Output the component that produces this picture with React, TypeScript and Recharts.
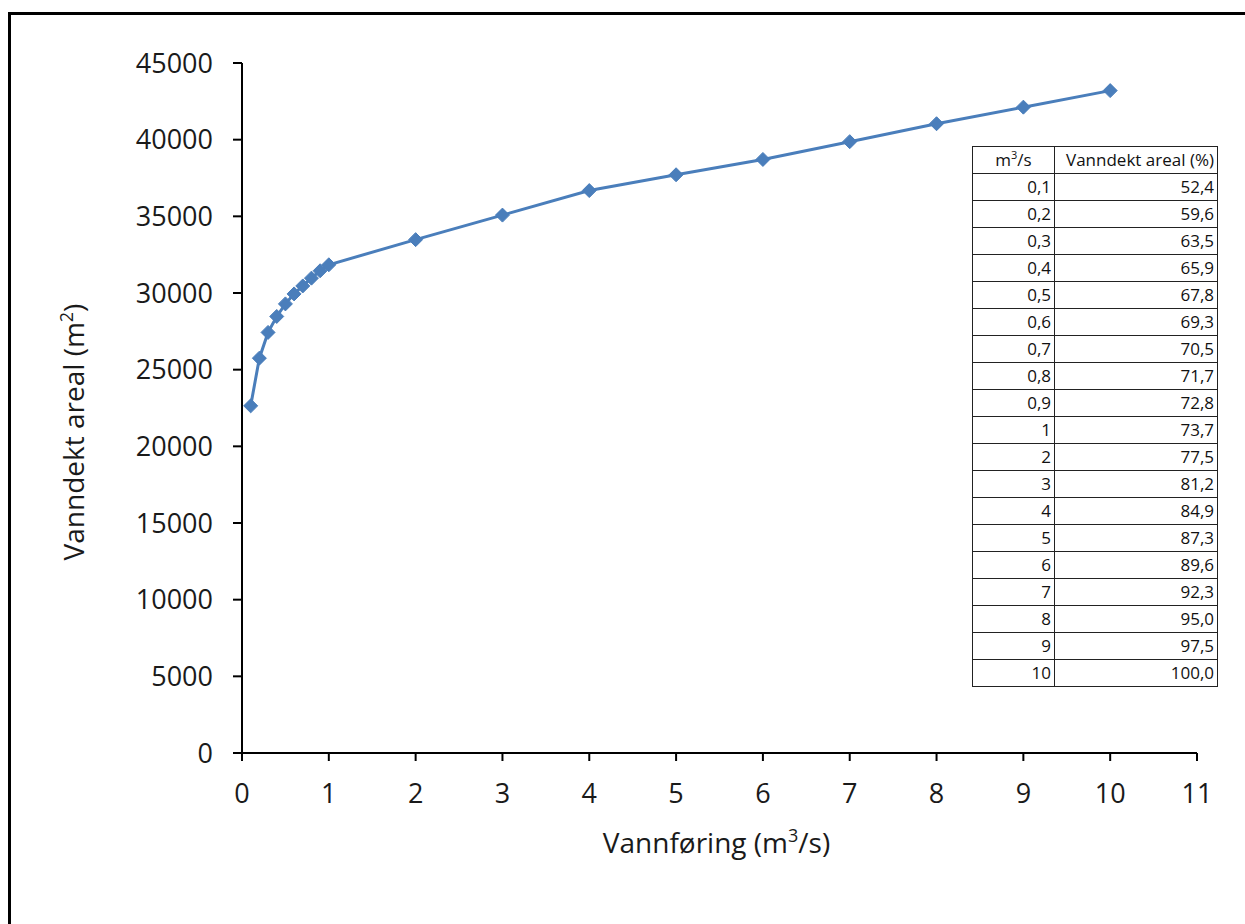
import React from 'react';
import { LineChart, Line, XAxis, YAxis, Label } from 'recharts';

const flows = [0.1, 0.2, 0.3, 0.4, 0.5, 0.6, 0.7, 0.8, 0.9, 1, 2, 3, 4, 5, 6, 7, 8, 9, 10];
const areas = [22640, 25750, 27430, 28470, 29290, 29940, 30460, 30970, 31450, 31840, 33480, 35080, 36680, 37710, 38710, 39870, 41040, 42120, 43200];
const flowLabels = ['0,1', '0,2', '0,3', '0,4', '0,5', '0,6', '0,7', '0,8', '0,9', '1', '2', '3', '4', '5', '6', '7', '8', '9', '10'];
const percents = ['52,4', '59,6', '63,5', '65,9', '67,8', '69,3', '70,5', '71,7', '72,8', '73,7', '77,5', '81,2', '84,9', '87,3', '89,6', '92,3', '95,0', '97,5', '100,0'];
const xTicks = [0, 1, 2, 3, 4, 5, 6, 7, 8, 9, 10, 11];
const yTicks = [0, 5000, 10000, 15000, 20000, 25000, 30000, 35000, 40000, 45000];

const data = flows.map((q, i) => ({ q, area: areas[i] }));

const FONT = '"Open Sans", "Liberation Sans", sans-serif';
const BLUE = '#4a7ebb';

const Diamond = (props: any) => {
  const { cx, cy } = props;
  if (cx == null || cy == null) return null;
  const r = 7;
  return (
    <polygon
      points={`${cx},${cy - r} ${cx + r},${cy} ${cx},${cy + r} ${cx - r},${cy}`}
      fill={BLUE}
      stroke={BLUE}
      strokeWidth={1}
    />
  );
};

const XTitle = (props: any) => {
  const vb = props.viewBox;
  const cx = vb.x + vb.width / 2 - 3;
  return (
    <text x={cx} y={853} textAnchor="middle" fontFamily={FONT} fontSize={28} fill="#1a1a1a">
      Vannføring (m<tspan dy={-11} fontSize={18}>3</tspan><tspan dy={11}>/s)</tspan>
    </text>
  );
};

const YTitle = () => (
  <text
    x={0}
    y={0}
    transform="translate(84, 432) rotate(-90)"
    textAnchor="middle"
    fontFamily={FONT}
    fontSize={28}
    fill="#1a1a1a"
  >
    Vanndekt areal (m<tspan dy={-11} fontSize={18}>2</tspan><tspan dy={11}>)</tspan>
  </text>
);

const cell: React.CSSProperties = {
  border: '1px solid #222',
  padding: '0 3px',
  height: 26,
  textAlign: 'right',
  fontFamily: FONT,
  fontSize: 17,
  color: '#111',
  lineHeight: '26px',
  whiteSpace: 'nowrap',
};

export default function App() {
  return (
    <div style={{ position: 'absolute', left: 0, top: 0, width: 1245, height: 924, background: '#fff', overflow: 'hidden' }}>
      <div
        style={{
          position: 'absolute',
          left: 8,
          top: 12,
          width: 1300,
          height: 1000,
          borderTop: '3px solid #000',
          borderLeft: '3px solid #000',
        }}
      />
      <div style={{ position: 'absolute', left: 0, top: 0 }}>
        <LineChart width={1245} height={924} data={data} margin={{ top: 63, right: 48, bottom: 71, left: 92 }}>
          <XAxis
            dataKey="q"
            type="number"
            domain={[0, 11]}
            ticks={xTicks}
            interval={0}
            height={100}
            stroke="#000"
            strokeWidth={2}
            tickSize={8}
            tickMargin={23}
            tick={{ fill: '#1a1a1a', fontSize: 27, fontFamily: FONT }}
          >
            <Label content={<XTitle />} />
          </XAxis>
          <YAxis
            type="number"
            domain={[0, 45000]}
            ticks={yTicks}
            interval={0}
            width={150}
            stroke="#000"
            strokeWidth={2}
            tickSize={9}
            tickMargin={20}
            tick={{ fill: '#1a1a1a', fontSize: 27, fontFamily: FONT }}
          >
            <Label content={<YTitle />} />
          </YAxis>
          <Line
            type="linear"
            dataKey="area"
            stroke={BLUE}
            strokeWidth={3}
            dot={<Diamond />}
            activeDot={false}
            isAnimationActive={false}
          />
        </LineChart>
      </div>
      <table
        style={{
          position: 'absolute',
          left: 972,
          top: 146,
          width: 245,
          borderCollapse: 'collapse',
          background: '#fff',
          tableLayout: 'fixed',
        }}
      >
        <colgroup>
          <col style={{ width: 82 }} />
          <col style={{ width: 163 }} />
        </colgroup>
        <tbody>
          <tr>
            <td style={{ ...cell, textAlign: 'center' }}>
              m<sup style={{ fontSize: 11, lineHeight: 0 }}>3</sup>/s
            </td>
            <td style={cell}>Vanndekt areal (%)</td>
          </tr>
          {flowLabels.map((f, i) => (
            <tr key={f}>
              <td style={cell}>{f}</td>
              <td style={cell}>{percents[i]}</td>
            </tr>
          ))}
        </tbody>
      </table>
    </div>
  );
}
